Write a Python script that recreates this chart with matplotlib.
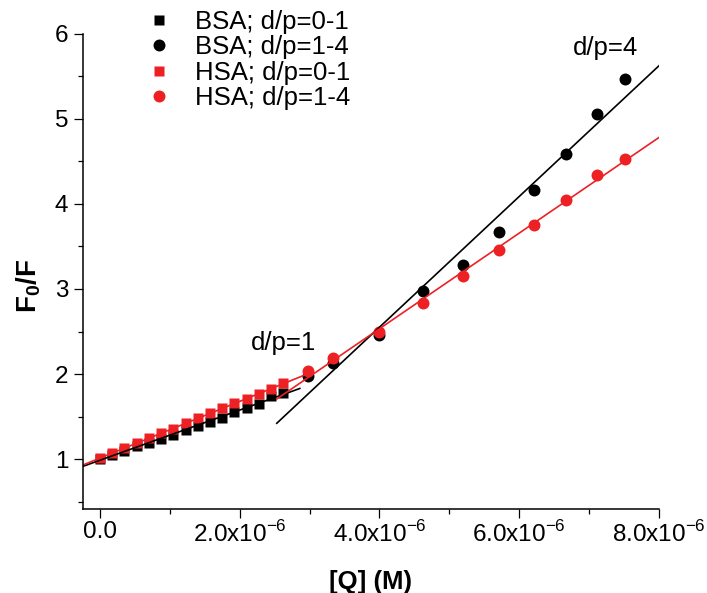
import numpy as np
import matplotlib
matplotlib.use("Agg")
import matplotlib.pyplot as plt
from matplotlib.ticker import MultipleLocator, FuncFormatter

plt.rcParams['font.family'] = ['Liberation Sans', 'DejaVu Sans']
plt.rcParams['mathtext.fontset'] = 'custom'
plt.rcParams['mathtext.rm'] = 'Liberation Sans'
plt.rcParams['mathtext.bf'] = 'Liberation Sans:bold'

# quencher concentration (M), d/p = 0-1 titration steps
q_low = np.array([0.0, 0.175, 0.35, 0.525, 0.70, 0.875, 1.05, 1.225, 1.40,
                  1.575, 1.75, 1.925, 2.10, 2.275, 2.45, 2.62]) * 1e-6
bsa_low = [1.00, 1.05, 1.10, 1.15, 1.19, 1.24, 1.29, 1.34, 1.39,
           1.44, 1.49, 1.55, 1.60, 1.65, 1.74, 1.78]
hsa_low = [1.01, 1.07, 1.13, 1.19, 1.25, 1.31, 1.36, 1.42, 1.48,
           1.54, 1.60, 1.66, 1.71, 1.77, 1.82, 1.89]

# d/p = 1-4
q_high = np.array([2.98, 3.34, 4.00, 4.62, 5.19, 5.71, 6.21, 6.67, 7.11, 7.51]) * 1e-6
bsa_high = [1.98, 2.13, 2.46, 2.98, 3.28, 3.67, 4.16, 4.58, 5.05, 5.46]
hsa_high = [2.04, 2.19, 2.49, 2.83, 3.15, 3.46, 3.75, 4.04, 4.34, 4.53]

# x span of each linear fit
fit_span_bsa_low = [-0.25e-6, 2.86e-6]
fit_span_hsa_low = [-0.25e-6, 2.98e-6]
fit_span_high = [2.53e-6, 8.0e-6]

red = '#ED2024'

fig = plt.figure(figsize=(7.07, 5.93), dpi=100)
ax = fig.add_axes([0.1174, 0.1417, 0.8147, 0.8018])

h1, = ax.plot(q_low, bsa_low, 's', color='black', ms=7.8, mec='none', label='BSA; d/p=0-1')
h2, = ax.plot(q_high, bsa_high, 'o', color='black', ms=8.6, mec='none', label='BSA; d/p=1-4')
h3, = ax.plot(q_low, hsa_low, 's', color=red, ms=7.8, mec='none', label='HSA; d/p=0-1')
h4, = ax.plot(q_high, hsa_high, 'o', color=red, ms=8.6, mec='none', label='HSA; d/p=1-4')


def fit_line(x, y, span, color):
    k, b = np.polyfit(np.asarray(x) * 1e6, y, 1)
    xs = np.array(span)
    ax.plot(xs, k * xs * 1e6 + b, '-', color=color, lw=1.2)


fit_line(q_low, bsa_low, fit_span_bsa_low, 'black')
fit_line(q_low, hsa_low, fit_span_hsa_low, red)
fit_line(q_high, bsa_high, fit_span_high, 'black')
fit_line(q_high, hsa_high, fit_span_high, red)

ax.text(2.62e-6, 2.37, 'd/p=1', fontsize=18.5, ha='center', va='center')
ax.text(7.24e-6, 5.83, 'd/p=4', fontsize=18.5, ha='center', va='center')

ax.set_xlim(-0.243e-6, 8.0e-6)
ax.set_ylim(0.416, 6.0)
ax.spines['top'].set_visible(False)
ax.spines['right'].set_visible(False)
for s in ['left', 'bottom']:
    ax.spines[s].set_linewidth(1.1)

ax.xaxis.set_major_locator(MultipleLocator(2e-6))
ax.xaxis.set_minor_locator(MultipleLocator(1e-6))
ax.yaxis.set_major_locator(MultipleLocator(1))
ax.yaxis.set_minor_locator(MultipleLocator(0.5))


def xfmt(v, pos):
    if abs(v) < 1e-12:
        return '0.0'
    return '%.1fx10$^{\\mathregular{-6}}$' % (v * 1e6)


ax.xaxis.set_major_formatter(FuncFormatter(xfmt))
ax.tick_params(which='major', direction='out', length=6.5, width=0.9, labelsize=17.5)
ax.tick_params(which='minor', direction='out', length=3.8, width=0.9)
ax.tick_params(axis='x', pad=2)
ax.tick_params(axis='y', pad=4)

ax.set_xlabel('[Q] (M)', fontsize=18.5, fontweight='bold', va='center')
ax.xaxis.set_label_coords(0.5, -0.153)
ax.set_ylabel('$\\mathbf{F_0/F}$', fontsize=20, va='center')
ax.yaxis.set_label_coords(-0.095, 0.47)

ax.legend(handles=[h1, h2, h3, h4], loc='upper left',
          bbox_to_anchor=(146 / 707, 1 - 10 / 593), bbox_transform=fig.transFigure,
          frameon=False, fontsize=18.5, handlelength=1.0, handletextpad=0.9,
          labelspacing=0.05, borderpad=0, borderaxespad=0, markerscale=1.0)

fig.savefig('out.png', dpi=100)
